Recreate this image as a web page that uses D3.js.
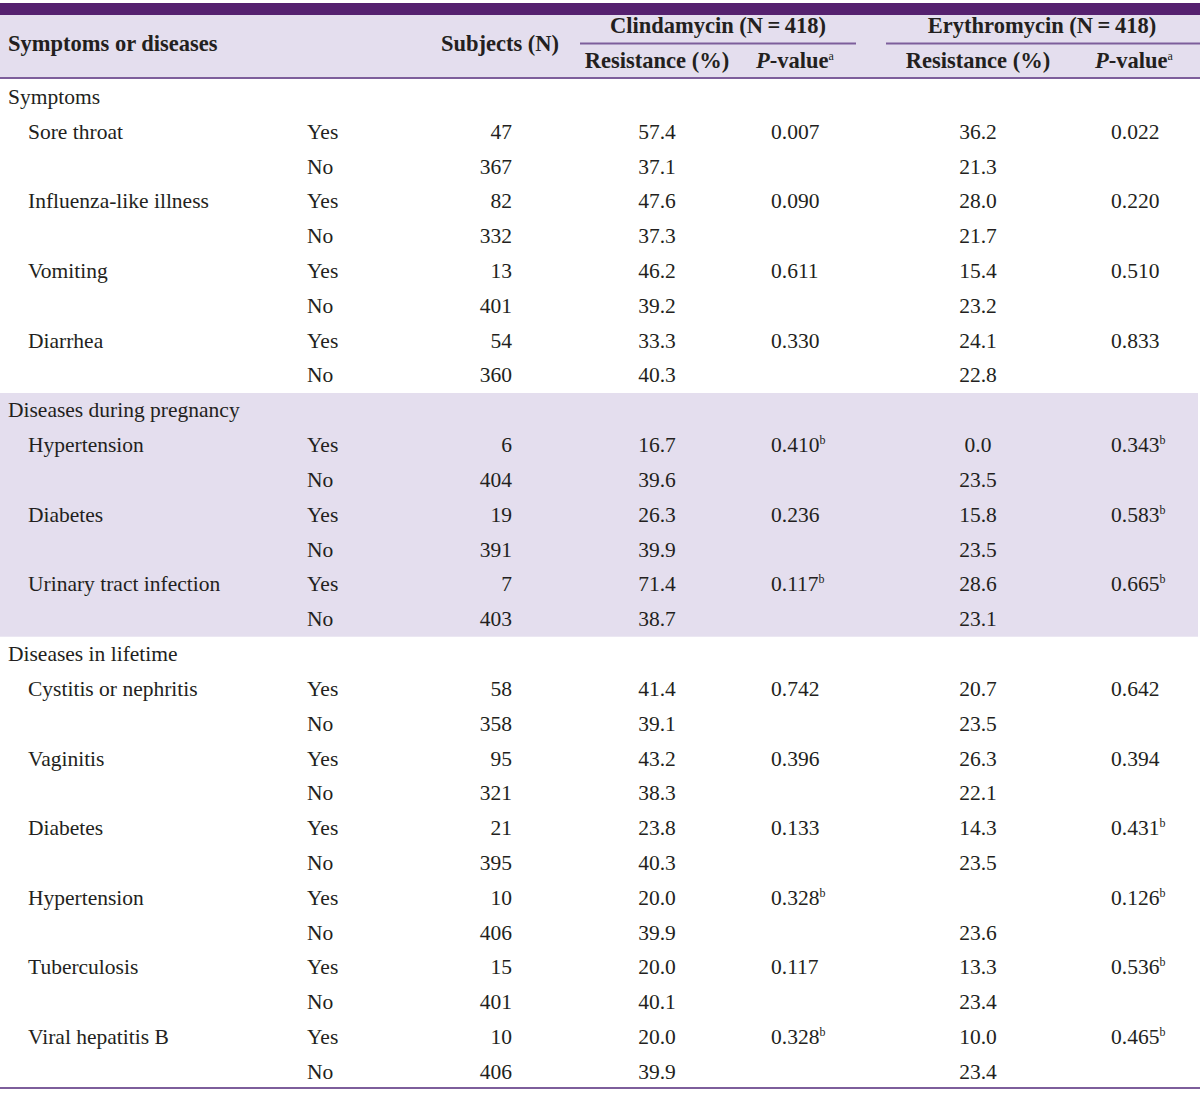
<!DOCTYPE html>
<html><head><meta charset="utf-8">
<script src="https://cdn.jsdelivr.net/npm/d3@7"></script>
<style>body{margin:0;background:#fff}svg{display:block}</style>
</head><body>
<script>
const groups = ["Symptoms", "Diseases during pregnancy", "Diseases in lifetime"];
const itemNames = ["Sore throat","Influenza-like illness","Vomiting","Diarrhea",
  "Hypertension","Diabetes","Urinary tract infection",
  "Cystitis or nephritis","Vaginitis","Diabetes","Hypertension","Tuberculosis","Viral hepatitis B"];
const itemGroup = [0,0,0,0,1,1,1,2,2,2,2,2,2];
const subjectsYes = [47,82,13,54,6,19,7,58,95,21,10,15,10];
const subjectsNo  = [367,332,401,360,404,391,403,358,321,395,406,401,406];
const clinYes = ["57.4","47.6","46.2","33.3","16.7","26.3","71.4","41.4","43.2","23.8","20.0","20.0","20.0"];
const clinNo  = ["37.1","37.3","39.2","40.3","39.6","39.9","38.7","39.1","38.3","40.3","39.9","40.1","39.9"];
const clinP   = ["0.007","0.090","0.611","0.330","0.410","0.236","0.117","0.742","0.396","0.133","0.328","0.117","0.328"];
const clinPsup= ["","","","","b","","b","","","","b","","b"];
const eryYes  = ["36.2","28.0","15.4","24.1","0.0","15.8","28.6","20.7","26.3","14.3","","13.3","10.0"];
const eryNo   = ["21.3","21.7","23.2","22.8","23.5","23.5","23.1","23.5","22.1","23.5","23.6","23.4","23.4"];
const eryP    = ["0.022","0.220","0.510","0.833","0.343","0.583","0.665","0.642","0.394","0.431","0.126","0.536","0.465"];
const eryPsup = ["","","","","b","b","b","","","b","b","b","b"];
const yesNo = ["Yes","No"];

const W = 1200, H = 1093;
const FONT = "'Liberation Serif', 'Times New Roman', serif";
const FS = 21.5;
const HFS = 22.5;
const BASE = 6.9; // baseline offset from row centre
const ink = "#231f20", purple = "#55216f", lav = "#e4deee", rule = "#7d5e9b";

// build rows
const rows = [];
groups.forEach((g, gi) => {
  rows.push({type:"group", gi, label:g});
  itemNames.forEach((n, i) => {
    if (itemGroup[i] !== gi) return;
    rows.push({type:"yes", gi, i});
    rows.push({type:"no", gi, i});
  });
});

const y = d3.scaleLinear().domain([0, rows.length - 1]).range([97, 1072]);
const rowH = y(1) - y(0);

const svg = d3.select("body").append("svg").attr("width", W).attr("height", H)
  .style("font-family", FONT).style("font-size", FS + "px").attr("fill", ink);

// header
svg.append("rect").attr("x",0).attr("y",15).attr("width",W).attr("height",63).attr("fill",lav);
svg.append("rect").attr("x",0).attr("y",3).attr("width",W).attr("height",12).attr("fill",purple);
svg.append("rect").attr("x",0).attr("y",77).attr("width",W).attr("height",2).attr("fill",rule);
svg.append("rect").attr("x",580).attr("y",42.5).attr("width",276).attr("height",2).attr("fill",rule);
svg.append("rect").attr("x",886).attr("y",42.5).attr("width",314).attr("height",2).attr("fill",rule);

// pregnancy band
const bandRows = rows.map((r,k)=>({r,k})).filter(o => o.r.gi === 1);
const bTop = y(bandRows[0].k) - rowH/2, bBot = y(bandRows[bandRows.length-1].k) + rowH/2;
svg.append("rect").attr("x",0).attr("y",bTop).attr("width",W-2).attr("height",bBot-bTop).attr("fill",lav);
svg.append("rect").attr("x",0).attr("y",1087).attr("width",W).attr("height",2).attr("fill",rule);

const hdr = svg.append("g").attr("font-weight","bold").style("font-size", HFS + "px");
function htext(x, yy, anchor, parts) {
  const t = hdr.append("text").attr("x", x).attr("y", yy + BASE + 0.4).attr("text-anchor", anchor);
  parts.forEach(p => {
    const s = t.append("tspan").text(p.t);
    if (p.i) s.attr("font-style","italic");
    if (p.sup) s.attr("font-size","12px").attr("baseline-shift","8px").attr("font-weight","normal");
  });
}
htext(8, 44, "start", [{t:"Symptoms or diseases"}]);
htext(500, 44, "middle", [{t:"Subjects (N)"}]);
htext(718, 26, "middle", [{t:"Clindamycin (N\u2009=\u2009418)"}]);
htext(1042, 26, "middle", [{t:"Erythromycin (N\u2009=\u2009418)"}]);
htext(657, 61, "middle", [{t:"Resistance (%)"}]);
htext(978, 61, "middle", [{t:"Resistance (%)"}]);
htext(795, 61, "middle", [{t:"P", i:true},{t:"-value"},{t:"a", sup:true}]);
htext(1134, 61, "middle", [{t:"P", i:true},{t:"-value"},{t:"a", sup:true}]);

const body = svg.append("g");
function cell(x, yy, anchor, txt, sup) {
  if (txt === "" ) return;
  const t = body.append("text").attr("x", x).attr("y", yy + BASE).attr("text-anchor", anchor);
  t.append("tspan").text(txt);
  if (sup) t.append("tspan").text(sup).attr("font-size","12px").attr("baseline-shift","8px");
}
rows.forEach((r, k) => {
  const yy = y(k);
  if (r.type === "group") { cell(8, yy, "start", r.label); return; }
  const i = r.i, yes = r.type === "yes";
  if (yes) cell(28, yy, "start", itemNames[i]);
  cell(307, yy, "start", yes ? yesNo[0] : yesNo[1]);
  cell(512, yy, "end", String(yes ? subjectsYes[i] : subjectsNo[i]));
  cell(657, yy, "middle", yes ? clinYes[i] : clinNo[i]);
  cell(978, yy, "middle", yes ? eryYes[i] : eryNo[i]);
  if (yes) {
    cell(771, yy, "start", clinP[i], clinPsup[i]);
    cell(1111, yy, "start", eryP[i], eryPsup[i]);
  }
});
</script>
</body></html>
